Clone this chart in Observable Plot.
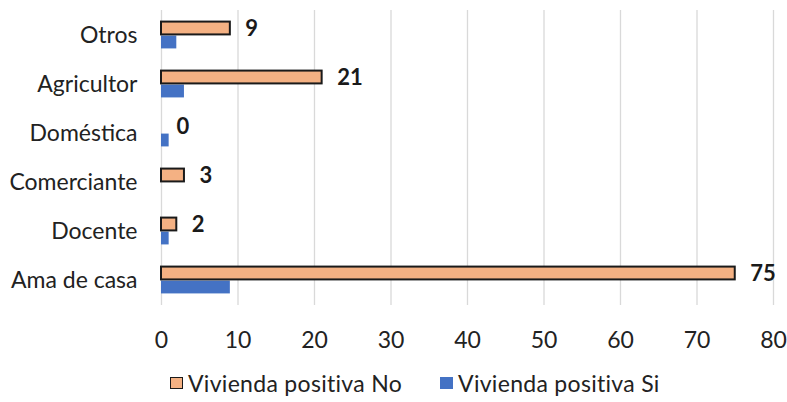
<!DOCTYPE html>
<html>
<head>
<meta charset="utf-8">
<script src="https://cdn.jsdelivr.net/npm/d3@7"></script>
<script src="https://cdn.jsdelivr.net/npm/@observablehq/plot@0.6"></script>
<style>
  body { margin: 0; background: #fff; font-family: Lato, "Open Sans", sans-serif; }
  #chart { width: 787px; }
  .legend { display: flex; margin-left: 170px; margin-top: 15px; font-size: 23px; line-height: 26px; color: #222; align-items: center; letter-spacing: 0.3px; }
  .legend span.item { display: flex; align-items: center; gap: 5px; }
  .legend span.item + span.item { margin-left: 38px; }
  .sw { display: inline-block; width: 13px; height: 12px; box-sizing: border-box; }
</style>
</head>
<body>
<div id="chart"></div>
<script>
const categories = ["Otros", "Agricultor", "Doméstica", "Comerciante", "Docente", "Ama de casa"];
const viviendaNo = [9, 21, 0, 3, 2, 75];
const viviendaSi = [2, 3, 1, 0, 1, 9];
const xTicks = [0, 10, 20, 30, 40, 50, 60, 70, 80];
const seriesNames = ["Vivienda positiva No", "Vivienda positiva Si"];
const colors = ["#F4B183", "#4472C4"];

const dataNo = categories.map((c, i) => ({cat: c, value: viviendaNo[i]}));
const dataSi = categories.map((c, i) => ({cat: c, value: viviendaSi[i]}));

const marginTop = 10, plotBottom = 305, height = 355;
const bw = (plotBottom - marginTop) / categories.length;
const half = bw / 2;

const chart = Plot.plot({
  width: 787,
  height,
  marginLeft: 161,
  marginRight: 14,
  marginTop,
  marginBottom: height - plotBottom,
  style: {fontFamily: "Lato, 'Open Sans', sans-serif", fontSize: "23px", color: "#222"},
  x: {domain: [0, 80], ticks: xTicks, label: null, tickSize: 0, tickPadding: 26},
  y: {domain: categories, padding: 0, label: null, tickSize: 0, tickPadding: 24},
  marks: [
    Plot.ruleX(xTicks, {stroke: "#d9d9d9", strokeWidth: 1.3}),
    Plot.barX(dataSi, {x: "value", y: "cat", fill: colors[1], insetTop: half, insetBottom: half - 13}),
    Plot.barX(dataNo, {x: "value", y: "cat", fill: colors[0], stroke: "#1a1a1a", strokeWidth: 2, insetTop: half - 14, insetBottom: half + 1}),
    Plot.text(dataNo, {x: "value", y: "cat", text: d => String(d.value), dx: 15, dy: -7, textAnchor: "start", fontWeight: "bold", fontSize: 22, fill: "#1a1a1a"})
  ]
});
document.getElementById("chart").appendChild(chart);

const legend = document.createElement("div");
legend.className = "legend";
seriesNames.forEach((name, i) => {
  const item = document.createElement("span");
  item.className = "item";
  const sw = document.createElement("span");
  sw.className = "sw";
  sw.style.background = colors[i];
  if (i === 0) sw.style.border = "1.5px solid #1a1a1a";
  item.appendChild(sw);
  item.appendChild(document.createTextNode(name));
  legend.appendChild(item);
});
document.getElementById("chart").appendChild(legend);
</script>
</body>
</html>
